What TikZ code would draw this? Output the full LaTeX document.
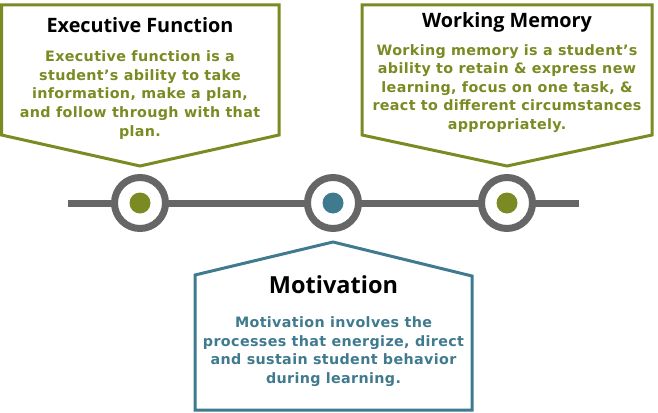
\documentclass[tikz,border=0pt]{standalone}
\usepackage{fontspec}
\setmainfont{DejaVu Sans}[LetterSpace=2.5]
\newfontfamily\titlefont{Open Sans}
\definecolor{olive}{HTML}{7B8A22}
\definecolor{teal}{HTML}{3F7A8F}
\definecolor{graybar}{HTML}{666666}
\tikzset{
  box/.style={line width=3pt, fill=white},
  bodytext/.style={align=center, inner sep=0pt, font={\bfseries\fontsize{14.3}{18.6}\selectfont}},
  titletext/.style={inner sep=0pt, font={\titlefont\bfseries\fontsize{19.8}{21}\selectfont}},
  ring/.style={circle, draw=graybar, line width=7pt, fill=white, minimum size=51pt, inner sep=0pt},
  dot/.style={circle, minimum size=21pt, inner sep=0pt},
}
\begin{document}
\begin{tikzpicture}[x=1pt,y=-1pt]
\useasboundingbox (0,0) rectangle (658,412);
% timeline
\coordinate (ls) at (68,203);
\coordinate (le) at (579,203);
\draw[graybar, line width=7pt] (ls) -- (le);
\node[ring] (c1) at (140,203) {};
\node[ring] (c2) at (333,203) {};
\node[ring] (c3) at (507,203) {};
\node[dot, fill=olive] (d1) at (c1) {};
\node[dot, fill=teal] (d2) at (c2) {};
\node[dot, fill=olive] (d3) at (c3) {};
% left box
\draw[box, draw=olive] (1.5,5) -- (279,5) -- (279,135) -- (140,166) -- (1.5,135) -- cycle;
\node[titletext] (t1) at (140,25) {Executive Function};
\node[bodytext, text=olive] (b1) at (140,95) {Executive function is a\\student’s ability to take\\information, make a plan,\\and follow through with that\\plan.};
% right box
\draw[box, draw=olive] (362,5) -- (652,5) -- (652,135) -- (507,166) -- (362,135) -- cycle;
\node[titletext] (t2) at (507,22) {Working Memory};
\node[bodytext, text=olive] (b2) at (507,88.5) {Working memory is a student’s\\ability to retain \& express new\\learning, focus on one task, \&\\react to different circumstances\\appropriately.};
% bottom box
\draw[box, draw=teal] (195,275) -- (333,242) -- (472,276) -- (472,410) -- (195,410) -- cycle;
\node[titletext, font={\titlefont\bfseries\fontsize{23.5}{25}\selectfont}] (t3) at (333.5,285) {Motivation};
\node[bodytext, text=teal] (b3) at (333.5,351.5) {Motivation involves the\\processes that energize, direct\\and sustain student behavior\\during learning.};
\end{tikzpicture}
\end{document}
